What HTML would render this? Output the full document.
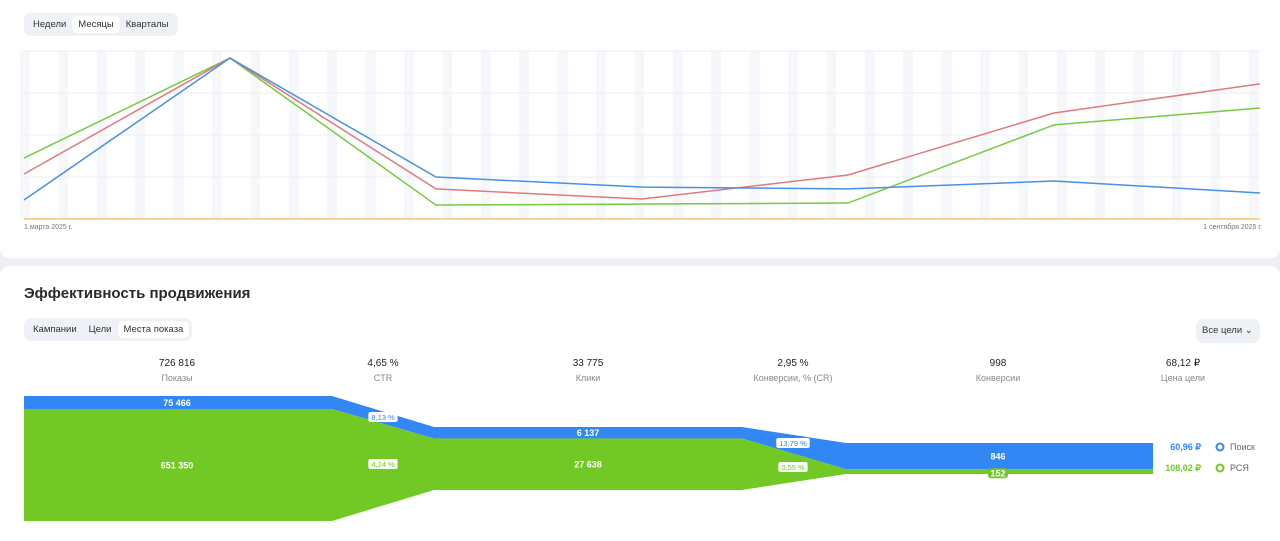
<!DOCTYPE html>
<html><head><meta charset="utf-8">
<style>
*{box-sizing:border-box;margin:0;padding:0}
body{width:1280px;height:541px;overflow:hidden;background:#eef0f4;font-family:"Liberation Sans","Noto Sans CJK SC",sans-serif;position:relative}
.card{position:absolute;left:0;width:1280px;background:#fff}
.seg{position:absolute;background:#eef1f6;border-radius:7px;display:flex;padding:3px;font-size:9.5px;color:#333;white-space:nowrap}
.seg span{padding:0 6px;line-height:17px;border-radius:5px}
.seg .on{background:#fff}
</style></head><body>
<div class="card" style="top:0;height:258px;border-radius:0 0 10px 10px"></div>
<div class="card" style="top:266px;height:275px;border-radius:10px 10px 0 0"></div>
<div class="seg" style="left:24px;top:13px">
<span>Недели</span><span class="on">Месяцы</span><span>Кварталы</span></div>
<svg id="lc" width="1280" height="240" style="position:absolute;left:0;top:0"></svg>
<div style="position:absolute;left:24px;top:224px;font-size:7px;color:#777">1 марта 2025 г.</div>
<div style="position:absolute;right:18px;top:224px;font-size:7px;color:#777">1 сентября 2025 г.</div>

<div style="position:absolute;left:24px;top:285px;font-size:15px;font-weight:bold;color:#2a2a2a">Эффективность продвижения</div>
<div class="seg" style="left:24px;top:318px">
<span>Кампании</span><span>Цели</span><span class="on">Места показа</span></div>
<div class="seg" style="left:1196px;top:319px;padding:3px 4px;width:64px;height:24px"><span style="padding:0 2px;line-height:18px">Все цели ⌄</span></div>
<svg id="fc" width="1280" height="541" style="position:absolute;left:0;top:0"></svg>
<script>
const NS="http://www.w3.org/2000/svg";
function mk(p,t,a){const e=document.createElementNS(NS,t);for(const k in a)e.setAttribute(k,a[k]);p.appendChild(e);return e;}
// line chart data
const months=["Мар","Апр","Май","Июн","Июл","Авг","Сен"];
const blueSeries=[11.3,95.8,25,19,17.9,22.6,15.5];
const redSeries=[26.8,95.8,17.9,11.9,26.2,63.1,80.4];
const greenSeries=[36.3,95.8,8.3,8.9,9.5,56,66.1];
const orangeSeries=[0,0,0,0,0,0,0];
const lc=document.getElementById('lc');
const X0=24,X1=1260,Y0=219,Y1=51;
const xs=i=>X0+(X1-X0)*i/(months.length-1);
const ys=v=>Y0-(Y0-Y1)*v/100;
for(let x=20;x<1260;x+=38.4){const r=mk(lc,'rect',{x:x,y:Y1,width:10,height:Y0-Y1,fill:'#f5f7fb'});

}
for(let g=0;g<=4;g++){const l=mk(lc,'line',{x1:X0,x2:X1,y1:ys(g*25),y2:ys(g*25),stroke:'#eceef2','stroke-width':1});

}
[[orangeSeries,'#f5c56a','orange-line'],[greenSeries,'#7ac943','green-line'],[redSeries,'#e07a80','red-line'],[blueSeries,'#4a90e2','blue-line']].forEach(([s,c,n])=>{
const p=mk(lc,'polyline',{points:s.map((v,i)=>xs(i)+','+ys(v)).join(' '),fill:'none',stroke:c,'stroke-width':1.5});

});
// funnel data
const stageNames=["Показы","CTR","Клики","Конверсии, % (CR)","Конверсии","Цена цели"];
const stageTotals=["726 816","4,65 %","33 775","2,95 %","998","68,12 ₽"];
const searchValues=[75466,6137,846];
const rsyaValues=[651350,27638,152];
const searchRates=["8,13 %","13,79 %"];
const rsyaRates=["4,24 %","0,55 %"];
const costs=["60,96 ₽","108,02 ₽"];
const fc=document.getElementById('fc');
const cx=[177,383,588,793,998,1183];
cx.forEach((x,i)=>{
const a=mk(fc,'text',{x:x,y:366,'text-anchor':'middle','font-size':10,fill:'#222','font-family':'Liberation Sans'});a.textContent=stageTotals[i];


const b=mk(fc,'text',{x:x,y:381,'text-anchor':'middle','font-size':9,fill:'#888','font-family':'Liberation Sans'});b.textContent=stageNames[i];

});
const blocks=[[24,332,396,125],[434,742,427,63],[846,1153,443,31]];
const geo=blocks.map((b,i)=>{const t=searchValues[i]+rsyaValues[i];const h1=b[3]*searchValues[i]/t;return {x0:b[0],x1:b[1],top:b[2],mid:b[2]+h1,bot:b[2]+b[3]};});
geo.forEach((g,i)=>{
const r1=mk(fc,'rect',{x:g.x0,y:g.top,width:g.x1-g.x0,height:g.mid-g.top,fill:'#3287f5'});


const r2=mk(fc,'rect',{x:g.x0,y:g.mid,width:g.x1-g.x0,height:g.bot-g.mid,fill:'#72c926'});


if(i<2){const n=geo[i+1];
const p1=mk(fc,'polygon',{points:`${g.x1},${g.top} ${n.x0},${n.top} ${n.x0},${n.mid} ${g.x1},${g.mid}`,fill:'#3287f5'});


const p2=mk(fc,'polygon',{points:`${g.x1},${g.mid} ${n.x0},${n.mid} ${n.x0},${n.bot} ${g.x1},${g.bot}`,fill:'#72c926'});

}
const fmt=v=>v.toLocaleString('ru-RU').replace(/\s/g,' ');
const sy=g.top+(g.mid-g.top)/2+3.5;
const l1=mk(fc,'text',{x:cx[i*2],y:sy,'text-anchor':'middle','font-size':9,'font-weight':'bold',fill:'#fff','font-family':'Liberation Sans'});l1.textContent=fmt(searchValues[i]);


const gh=g.bot-g.mid;
if(gh<12){const pr=mk(fc,'rect',{x:cx[i*2]-10,y:g.mid-1,width:20,height:10,rx:3,fill:'#72c926'});

}
const l2=mk(fc,'text',{x:cx[i*2],y:gh<12?g.mid+7:g.mid+gh/2+3.5,'text-anchor':'middle','font-size':9,'font-weight':'bold',fill:'#fff','font-family':'Liberation Sans'});l2.textContent=fmt(rsyaValues[i]);


});
const rateY=[[417,464],[443,467]];
[0,1].forEach(i=>{
[[searchRates[i],'#3287f5',rateY[i][0]],[rsyaRates[i],'#72c926',rateY[i][1]]].forEach(([t,c,y])=>{
const w=t.length*4.2+4;
const r=mk(fc,'rect',{x:cx[i*2+1]-w/2,y:y-5,width:w,height:10,rx:2,fill:'#fff'});


const tx=mk(fc,'text',{x:cx[i*2+1],y:y+3,'text-anchor':'middle','font-size':7.5,fill:c,'font-family':'Liberation Sans'});tx.textContent=t;

});});
[[costs[0],'#3287f5','Поиск',450],[costs[1],'#72c926','РСЯ',471]].forEach(([c,col,nm,y])=>{
const a=mk(fc,'text',{x:1201,y:y,'text-anchor':'end','font-size':9,fill:col,'font-weight':'bold','font-family':'Liberation Sans'});a.textContent=c;


const ci=mk(fc,'circle',{cx:1220,cy:y-3,r:3.5,fill:'none',stroke:col,'stroke-width':2});


const b=mk(fc,'text',{x:1230,y:y,'font-size':9,fill:'#666','font-family':'Liberation Sans'});b.textContent=nm;

});
</script>
</body></html>
